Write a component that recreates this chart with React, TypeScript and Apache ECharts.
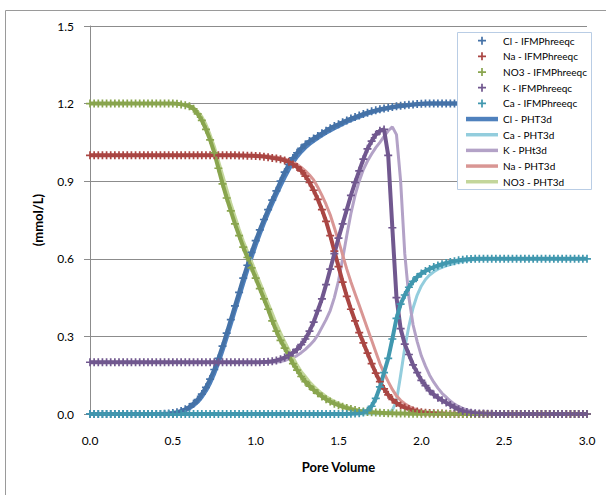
import React, { useEffect, useRef } from "react";
import * as echarts from "echarts";

// pore-volume sample positions (0 .. 3.0, every 0.025)
const pv: number[] = Array.from({ length: 121 }, (_, i) => +(i * 0.025).toFixed(3));

const xTicks = ["0.0", "0.5", "1.0", "1.5", "2.0", "2.5", "3.0"];
const yTicks = ["0.0", "0.3", "0.6", "0.9", "1.2", "1.5"];

const clIFM = [
  0, 0, 0, 0, 0, 0, 0, 0, 0, 0, 0, 0, 0, 0, 0, 0, 0, 0, 0.001, 0.002,
  0.004, 0.007, 0.012, 0.018, 0.027, 0.04, 0.056, 0.077, 0.103, 0.135, 0.172, 0.215, 0.262, 0.313, 0.365, 0.418, 0.47, 0.525, 0.575, 0.625,
  0.67, 0.712, 0.752, 0.79, 0.827, 0.863, 0.9, 0.935, 0.965, 0.99, 1.01, 1.027, 1.042, 1.055, 1.065, 1.075, 1.085, 1.095, 1.105, 1.113,
  1.12, 1.128, 1.135, 1.142, 1.148, 1.154, 1.16, 1.165, 1.17, 1.174, 1.178, 1.181, 1.184, 1.187, 1.19, 1.192, 1.194, 1.196, 1.197, 1.198,
  1.199, 1.2, 1.2, 1.2, 1.2, 1.2, 1.2, 1.2, 1.2, 1.2, 1.2, 1.2, 1.2, 1.2, 1.2, 1.2, 1.2, 1.2, 1.2, 1.2,
  1.2, 1.2, 1.2, 1.2, 1.2, 1.2, 1.2, 1.2, 1.2, 1.2, 1.2, 1.2, 1.2, 1.2, 1.2, 1.2, 1.2, 1.2, 1.2, 1.2,
  1.2,
];

const naIFM = [
  1, 1, 1, 1, 1, 1, 1, 1, 1, 1, 1, 1, 1, 1, 1, 1, 1, 1, 1, 1,
  1, 1, 1, 1, 1, 1, 1, 1, 1, 1, 1, 1, 1, 1, 1, 1, 0.999, 0.999, 0.998, 0.998,
  0.997, 0.996, 0.995, 0.993, 0.99, 0.988, 0.985, 0.98, 0.975, 0.965, 0.955, 0.94, 0.92, 0.895, 0.865, 0.83, 0.79, 0.745, 0.69, 0.63,
  0.57, 0.51, 0.455, 0.405, 0.36, 0.315, 0.275, 0.235, 0.195, 0.158, 0.125, 0.097, 0.074, 0.056, 0.043, 0.033, 0.025, 0.019, 0.014, 0.01,
  0.007, 0.005, 0.004, 0.003, 0.002, 0.002, 0.001, 0.001, 0.001, 0, 0, 0, 0, 0, 0, 0, 0, 0, 0, 0,
  0, 0, 0, 0, 0, 0, 0, 0, 0, 0, 0, 0, 0, 0, 0, 0, 0, 0, 0, 0,
  0,
];

const no3IFM = [
  1.2, 1.2, 1.2, 1.2, 1.2, 1.2, 1.2, 1.2, 1.2, 1.2, 1.2, 1.2, 1.2, 1.2, 1.2, 1.2, 1.2, 1.2, 1.2, 1.2,
  1.2, 1.199, 1.197, 1.194, 1.19, 1.18, 1.16, 1.135, 1.1, 1.06, 1.01, 0.95, 0.89, 0.835, 0.785, 0.735, 0.69, 0.645, 0.605, 0.565,
  0.525, 0.485, 0.445, 0.405, 0.36, 0.32, 0.285, 0.255, 0.225, 0.195, 0.17, 0.145, 0.125, 0.108, 0.093, 0.08, 0.068, 0.057, 0.048, 0.04,
  0.034, 0.028, 0.023, 0.019, 0.015, 0.012, 0.01, 0.008, 0.007, 0.006, 0.005, 0.004, 0.003, 0.003, 0.002, 0.002, 0.002, 0.001, 0.001, 0.001,
  0.001, 0.001, 0.001, 0.001, 0.001, 0.001, 0, 0, 0, 0, 0, 0, 0, 0, 0, 0, 0, 0, 0, 0,
  0, 0, 0, 0, 0, 0, 0, 0, 0, 0, 0, 0, 0, 0, 0, 0, 0, 0, 0, 0,
  0,
];

const kIFM = [
  0.2, 0.2, 0.2, 0.2, 0.2, 0.2, 0.2, 0.2, 0.2, 0.2, 0.2, 0.2, 0.2, 0.2, 0.2, 0.2, 0.2, 0.2, 0.2, 0.2,
  0.2, 0.2, 0.2, 0.2, 0.2, 0.2, 0.2, 0.2, 0.2, 0.2, 0.2, 0.2, 0.2, 0.2, 0.2, 0.2, 0.2, 0.2, 0.2, 0.2,
  0.2, 0.2, 0.201, 0.202, 0.204, 0.207, 0.212, 0.218, 0.226, 0.237, 0.25, 0.268, 0.29, 0.32, 0.355, 0.4, 0.445, 0.5, 0.56, 0.62,
  0.68, 0.735, 0.79, 0.845, 0.895, 0.94, 0.985, 1.025, 1.055, 1.08, 1.095, 1.1, 1.0, 0.72, 0.45, 0.33, 0.27, 0.23, 0.19, 0.16,
  0.13, 0.11, 0.09, 0.075, 0.063, 0.053, 0.044, 0.035, 0.026, 0.018, 0.012, 0.008, 0.005, 0.003, 0.002, 0.002, 0.001, 0.001, 0, 0,
  0, 0, 0, 0, 0, 0, 0, 0, 0, 0, 0, 0, 0, 0, 0, 0, 0, 0, 0, 0,
  0,
];

const caIFM = [
  0, 0, 0, 0, 0, 0, 0, 0, 0, 0, 0, 0, 0, 0, 0, 0, 0, 0, 0, 0,
  0, 0, 0, 0, 0, 0, 0, 0, 0, 0, 0, 0, 0, 0, 0, 0, 0, 0, 0, 0,
  0, 0, 0, 0, 0, 0, 0, 0, 0, 0, 0, 0, 0, 0, 0, 0, 0, 0, 0, 0,
  0, 0, 0, 0.001, 0.002, 0.003, 0.006, 0.013, 0.03, 0.06, 0.105, 0.16, 0.215, 0.29, 0.37, 0.425, 0.46, 0.49, 0.513, 0.53,
  0.543, 0.553, 0.561, 0.568, 0.574, 0.579, 0.584, 0.588, 0.591, 0.594, 0.596, 0.598, 0.599, 0.6, 0.6, 0.6, 0.6, 0.6, 0.6, 0.6,
  0.6, 0.6, 0.6, 0.6, 0.6, 0.6, 0.6, 0.6, 0.6, 0.6, 0.6, 0.6, 0.6, 0.6, 0.6, 0.6, 0.6, 0.6, 0.6, 0.6,
  0.6,
];

const clPHT = [
  0, 0, 0, 0, 0, 0, 0, 0, 0, 0, 0, 0, 0, 0, 0, 0, 0, 0, 0, 0.001,
  0.003, 0.005, 0.009, 0.014, 0.022, 0.033, 0.047, 0.066, 0.09, 0.12, 0.156, 0.198, 0.245, 0.295, 0.347, 0.4, 0.452, 0.505, 0.556, 0.605,
  0.652, 0.696, 0.737, 0.776, 0.813, 0.848, 0.882, 0.915, 0.945, 0.972, 0.995, 1.014, 1.03, 1.044, 1.056, 1.067, 1.077, 1.087, 1.096, 1.105,
  1.113, 1.121, 1.129, 1.136, 1.143, 1.149, 1.155, 1.161, 1.166, 1.171, 1.175, 1.179, 1.182, 1.185, 1.188, 1.19, 1.192, 1.194, 1.196, 1.197,
  1.198, 1.199, 1.2, 1.2, 1.2, 1.2, 1.2, 1.2, 1.2, 1.2, 1.2, 1.2, 1.2, 1.2, 1.2, 1.2, 1.2, 1.2, 1.2, 1.2,
  1.2, 1.2, 1.2, 1.2, 1.2, 1.2, 1.2, 1.2, 1.2, 1.2, 1.2, 1.2, 1.2, 1.2, 1.2, 1.2, 1.2, 1.2, 1.2, 1.2,
  1.2,
];

const caPHT = [
  0, 0, 0, 0, 0, 0, 0, 0, 0, 0, 0, 0, 0, 0, 0, 0, 0, 0, 0, 0,
  0, 0, 0, 0, 0, 0, 0, 0, 0, 0, 0, 0, 0, 0, 0, 0, 0, 0, 0, 0,
  0, 0, 0, 0, 0, 0, 0, 0, 0, 0, 0, 0, 0, 0, 0, 0, 0, 0, 0, 0,
  0, 0, 0, 0, 0, 0, 0, 0, 0, 0, 0, 0, 0.003, 0.015, 0.05, 0.15, 0.255, 0.34, 0.41, 0.46,
  0.495, 0.52, 0.537, 0.55, 0.56, 0.567, 0.573, 0.578, 0.583, 0.587, 0.59, 0.593, 0.595, 0.597, 0.598, 0.599, 0.6, 0.6, 0.6, 0.6,
  0.6, 0.6, 0.6, 0.6, 0.6, 0.6, 0.6, 0.6, 0.6, 0.6, 0.6, 0.6, 0.6, 0.6, 0.6, 0.6, 0.6, 0.6, 0.6, 0.6,
  0.6,
];

const kPHT = [
  0.2, 0.2, 0.2, 0.2, 0.2, 0.2, 0.2, 0.2, 0.2, 0.2, 0.2, 0.2, 0.2, 0.2, 0.2, 0.2, 0.2, 0.2, 0.2, 0.2,
  0.2, 0.2, 0.2, 0.2, 0.2, 0.2, 0.2, 0.2, 0.2, 0.2, 0.2, 0.2, 0.2, 0.2, 0.2, 0.2, 0.2, 0.2, 0.2, 0.2,
  0.2, 0.2, 0.2, 0.2, 0.2, 0.201, 0.203, 0.207, 0.212, 0.218, 0.226, 0.237, 0.25, 0.265, 0.282, 0.305, 0.335, 0.365, 0.4, 0.45,
  0.515, 0.6, 0.69, 0.775, 0.845, 0.9, 0.945, 0.978, 1.005, 1.03, 1.05, 1.073, 1.095, 1.11, 1.08, 0.9, 0.62, 0.45, 0.345, 0.28,
  0.225, 0.185, 0.15, 0.123, 0.1, 0.08, 0.065, 0.05, 0.038, 0.029, 0.022, 0.016, 0.012, 0.008, 0.006, 0.004, 0.003, 0.002, 0.001, 0.001,
  0, 0, 0, 0, 0, 0, 0, 0, 0, 0, 0, 0, 0, 0, 0, 0, 0, 0, 0, 0,
  0,
];

const naPHT = [
  1, 1, 1, 1, 1, 1, 1, 1, 1, 1, 1, 1, 1, 1, 1, 1, 1, 1, 1, 1,
  1, 1, 1, 1, 1, 1, 1, 1, 1, 1, 1, 1, 1, 1, 1, 1, 1, 1, 1, 1,
  1, 0.999, 0.998, 0.997, 0.995, 0.993, 0.99, 0.986, 0.98, 0.973, 0.965, 0.953, 0.94, 0.924, 0.905, 0.877, 0.845, 0.81, 0.77, 0.72,
  0.67, 0.615, 0.56, 0.51, 0.465, 0.42, 0.375, 0.33, 0.285, 0.24, 0.195, 0.158, 0.125, 0.095, 0.07, 0.053, 0.04, 0.03, 0.022, 0.016,
  0.012, 0.009, 0.006, 0.004, 0.003, 0.002, 0.001, 0.001, 0, 0, 0, 0, 0, 0, 0, 0, 0, 0, 0, 0,
  0, 0, 0, 0, 0, 0, 0, 0, 0, 0, 0, 0, 0, 0, 0, 0, 0, 0, 0, 0,
  0,
];

const no3PHT = [
  1.2, 1.2, 1.2, 1.2, 1.2, 1.2, 1.2, 1.2, 1.2, 1.2, 1.2, 1.2, 1.2, 1.2, 1.2, 1.2, 1.2, 1.2, 1.2, 1.2,
  1.2, 1.2, 1.198, 1.196, 1.192, 1.185, 1.17, 1.15, 1.12, 1.08, 1.035, 0.98, 0.925, 0.87, 0.815, 0.765, 0.715, 0.67, 0.63, 0.59,
  0.55, 0.51, 0.47, 0.43, 0.39, 0.35, 0.315, 0.28, 0.25, 0.22, 0.19, 0.165, 0.145, 0.125, 0.108, 0.093, 0.08, 0.068, 0.058, 0.049,
  0.041, 0.034, 0.028, 0.023, 0.019, 0.015, 0.012, 0.01, 0.008, 0.006, 0.005, 0.004, 0.003, 0.002, 0.002, 0.001, 0.001, 0.001, 0, 0,
  0, 0, 0, 0, 0, 0, 0, 0, 0, 0, 0, 0, 0, 0, 0, 0, 0, 0, 0, 0,
  0, 0, 0, 0, 0, 0, 0, 0, 0, 0, 0, 0, 0, 0, 0, 0, 0, 0, 0, 0,
  0,
];

const ifmNames = ["Cl - IFMPhreeqc", "Na - IFMPhreeqc", "NO3 - IFMPhreeqc", "K - IFMPhreeqc", "Ca - IFMPhreeqc"];
const ifmColors = ["#4572A7", "#AA4643", "#89A54E", "#71588F", "#4198AF"];
const ifmValues = [clIFM, naIFM, no3IFM, kIFM, caIFM];

const phtNames = ["Cl - PHT3d", "Ca - PHT3d", "K - PHt3d", "Na - PHT3d", "NO3 - PHT3d"];
const phtColors = ["#4F81BD", "#93CDDD", "#B3A2C7", "#D99694", "#C3D69B"];
const phtWidths = [4, 3, 3, 3, 3];
const phtValues = [clPHT, caPHT, kPHT, naPHT, no3PHT];

const PLUS = "path://M2.75,0H4.25V2.75H7V4.25H4.25V7H2.75V4.25H0V2.75H2.75Z";
const FONT = "Lato, 'Liberation Sans', sans-serif";

export default function App() {
  const ref = useRef<HTMLDivElement>(null);
  useEffect(() => {
    const chart = echarts.init(ref.current!, null, { renderer: "svg" });
    const pts = (a: number[]) => pv.map((x, i) => [x, a[i]]);
    const series: any[] = [];
    ifmNames.forEach((name, k) => {
      series.push({
        name,
        type: "line",
        data: pts(ifmValues[k]),
        symbol: PLUS,
        symbolSize: 8,
        symbolKeepAspect: true,
        showAllSymbol: true,
        itemStyle: { color: ifmColors[k] },
        lineStyle: { color: ifmColors[k], width: 4 },
        emphasis: { disabled: true },
        z: 3,
      });
    });
    phtNames.forEach((name, k) => {
      series.push({
        name,
        type: "line",
        data: pts(phtValues[k]),
        symbol: "none",
        showSymbol: false,
        itemStyle: { color: phtColors[k] },
        lineStyle: { color: phtColors[k], width: phtWidths[k] },
        emphasis: { disabled: true },
        z: 2,
      });
    });
    const legendData = [
      ...ifmNames.map((n) => ({ name: n, icon: PLUS })),
      ...phtNames.map((n, k) => ({
        name: n,
        icon: k === 0 ? "path://M0,0H32V4.5H0Z" : "path://M0,0H32V3.5H0Z",
      })),
    ];
    chart.setOption({
      animation: false,
      backgroundColor: "#fff",
      textStyle: { fontFamily: FONT },
      grid: { left: 90, top: 26, right: 19, bottom: 81, containLabel: false },
      xAxis: {
        type: "value",
        min: 0,
        max: 3,
        interval: 0.5,
        name: "Pore Volume",
        nameLocation: "middle",
        nameGap: 46,
        nameTextStyle: { fontFamily: FONT, fontSize: 13, fontWeight: "bold", color: "#000" },
        axisLine: { show: true, onZero: false, lineStyle: { color: "#8c8c8c", width: 1 } },
        axisTick: { show: true, length: 4, inside: false, lineStyle: { color: "#8c8c8c" } },
        axisLabel: {
          margin: 20,
          fontFamily: FONT,
          fontSize: 12,
          color: "#000",
          formatter: (v: number) => xTicks[Math.round(v / 0.5)] ?? v.toFixed(1),
        },
        splitLine: { show: false },
      },
      yAxis: {
        type: "value",
        min: 0,
        max: 1.5,
        interval: 0.3,
        name: "(mmol/L)",
        nameLocation: "middle",
        nameGap: 46,
        nameTextStyle: { fontFamily: FONT, fontSize: 13, fontWeight: "bold", color: "#000" },
        axisLine: { show: true, lineStyle: { color: "#8c8c8c", width: 1 } },
        axisTick: { show: true, length: 6, inside: false, lineStyle: { color: "#8c8c8c" } },
        axisLabel: {
          margin: 16,
          fontFamily: FONT,
          fontSize: 12,
          color: "#000",
          formatter: (v: number) => yTicks[Math.round(v / 0.3)] ?? v.toFixed(1),
        },
        splitLine: { show: true, lineStyle: { color: "#8c8c8c", width: 1 } },
      },
      legend: {
        orient: "vertical",
        left: 466,
        top: 34.7,
        padding: 0,
        itemWidth: 32,
        itemHeight: 8,
        itemGap: 3.67,
        selectedMode: false,
        symbolKeepAspect: true,
        textStyle: { fontFamily: FONT, fontSize: 10, lineHeight: 12, color: "#000" },
        data: legendData,
        z: 5,
      },
      graphic: [
        {
          type: "rect",
          shape: { x: 5.5, y: 10.5, width: 700, height: 600 },
          style: { fill: "none", stroke: "#9a9a9a", lineWidth: 1 },
          z: 0,
          silent: true,
        },
        {
          type: "rect",
          shape: { x: 457.5, y: 32.5, width: 134, height: 157 },
          style: { fill: "#fff", stroke: "#B9CDE5", lineWidth: 1 },
          z: 4,
          silent: true,
        },
      ],
      series,
    });
    return () => chart.dispose();
  }, []);
  return <div ref={ref} style={{ position: "fixed", left: 0, top: 0, width: 606, height: 495 }} />;
}
